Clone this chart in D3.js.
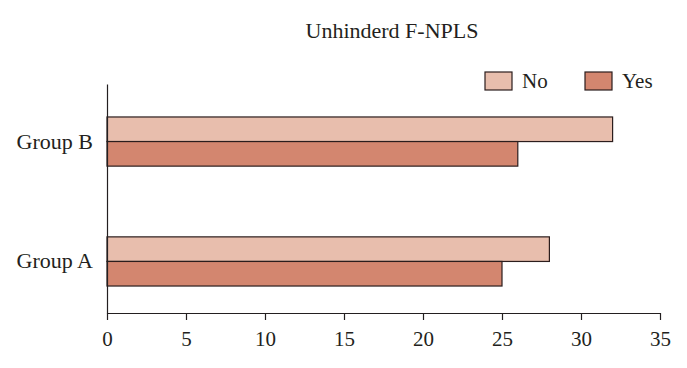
<!DOCTYPE html>
<html>
<head>
<meta charset="utf-8">
<script src="https://cdn.jsdelivr.net/npm/d3@7"></script>
<style>
  body { margin: 0; background: #fff; }
  svg text { font-family: "Liberation Serif", "DejaVu Serif", serif; fill: #231f20; }
</style>
</head>
<body>
<svg id="chart" width="687" height="368"></svg>
<script>
var groups = ["Group B", "Group A"];
var keys = ["No", "Yes"];
var noValues = [32, 28];
var yesValues = [26, 25];
var xTicks = [0, 5, 10, 15, 20, 25, 30, 35];

var data = groups.map(function(g, i) {
  return {group: g, No: noValues[i], Yes: yesValues[i]};
});

var svg = d3.select("svg#chart"),
    margin = {top: 84, right: 27, bottom: 55, left: 107},
    width = +svg.attr("width") - margin.left - margin.right,
    height = +svg.attr("height") - margin.top - margin.bottom,
    g = svg.append("g").attr("transform", "translate(" + margin.left + "," + margin.top + ")");

var x = d3.scaleLinear().domain([0, 35]).range([0, width]);

var y0 = d3.scaleBand()
    .domain(groups)
    .range([0, height])
    .paddingInner(0.59)
    .paddingOuter(0.25)
    .align(0.55);

var y1 = d3.scaleBand().domain(keys).range([0, y0.bandwidth()]);

var color = d3.scaleOrdinal().domain(keys).range(["#e8bead", "#d3866f"]);

// bars
g.append("g")
  .selectAll("g")
  .data(data)
  .enter().append("g")
    .attr("transform", function(d) { return "translate(0," + y0(d.group) + ")"; })
  .selectAll("rect")
  .data(function(d) { return keys.map(function(k) { return {key: k, value: d[k]}; }); })
  .enter().append("rect")
    .attr("x", x(0))
    .attr("y", function(d) { return y1(d.key); })
    .attr("width", function(d) { return x(d.value) - x(0); })
    .attr("height", y1.bandwidth())
    .attr("fill", function(d) { return color(d.key); })
    .attr("stroke", "#2b1d1d")
    .attr("stroke-width", 1.2);

// x axis
var xAxis = g.append("g")
  .attr("transform", "translate(0," + height + ")")
  .call(d3.axisBottom(x).tickValues(xTicks).tickSize(7).tickPadding(11).tickSizeOuter(0));
xAxis.select(".domain").attr("stroke", "#231f20").attr("stroke-width", 1.2);
xAxis.selectAll(".tick line").attr("stroke", "#231f20").attr("stroke-width", 1.2);
xAxis.selectAll("text").attr("font-size", 21).attr("font-family", "Liberation Serif");

// y axis
var yAxis = g.append("g")
  .call(d3.axisLeft(y0).tickSize(0).tickPadding(14).tickSizeOuter(0));
yAxis.select(".domain").attr("stroke", "#231f20").attr("stroke-width", 1.2);
yAxis.selectAll("text").attr("font-size", 22).attr("font-family", "Liberation Serif");

// title
svg.append("text")
  .attr("x", 392)
  .attr("y", 38)
  .attr("text-anchor", "middle")
  .attr("font-size", 22)
  .text("Unhinderd F-NPLS");

// legend
var legend = svg.append("g")
  .selectAll("g")
  .data(keys)
  .enter().append("g")
    .attr("transform", function(d, i) { return "translate(" + (485 + i * 100) + ",72)"; });

legend.append("rect")
  .attr("width", 27)
  .attr("height", 18)
  .attr("fill", function(d) { return color(d); })
  .attr("stroke", "#2b1d1d")
  .attr("stroke-width", 1.2);

legend.append("text")
  .attr("x", 37)
  .attr("y", 9)
  .attr("dy", "0.35em")
  .attr("font-size", 21)
  .text(function(d) { return d; });
</script>
</body>
</html>
